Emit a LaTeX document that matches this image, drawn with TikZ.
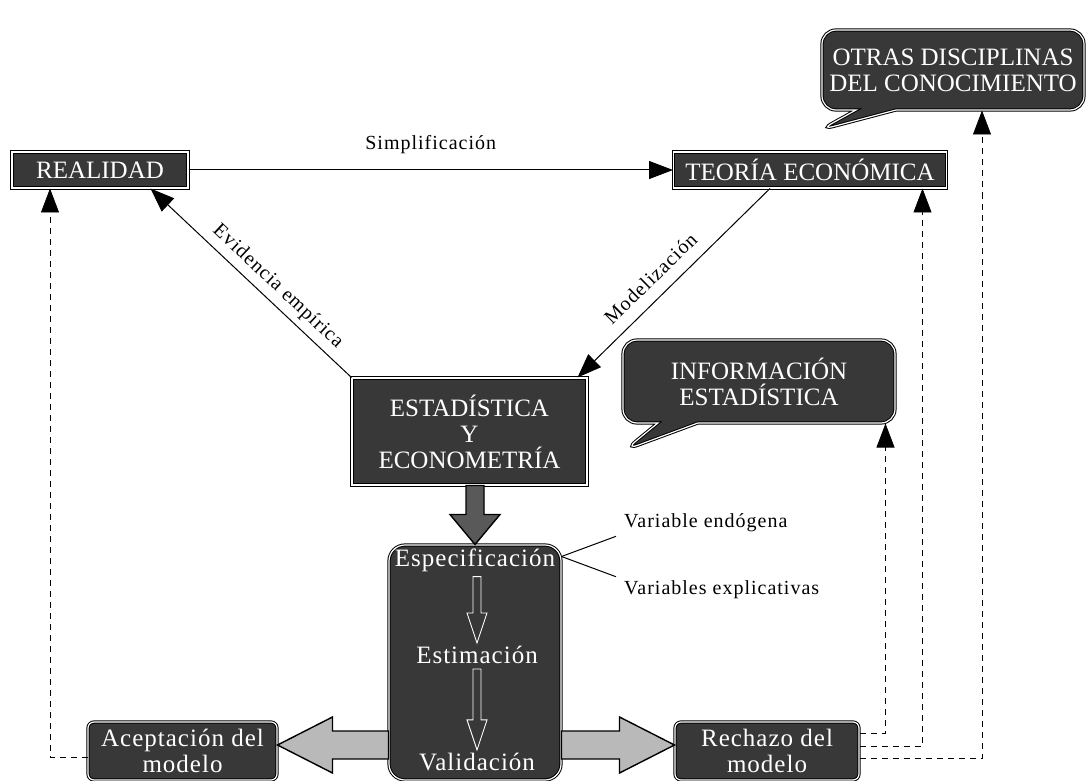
\documentclass[tikz,border=0pt]{standalone}
\usepackage{fontspec}
\setmainfont{Liberation Serif}
\newfontfamily\lblfont[LetterSpace=5]{Liberation Serif}
\newfontfamily\mixfont[LetterSpace=4]{Liberation Serif}
\usetikzlibrary{arrows.meta,calc,shapes.callouts}
\begin{document}
\begin{tikzpicture}[x=1pt,y=-1pt,
  darkbox/.style={draw=black, line width=1pt, double=white, double distance=1.2pt,
    fill=black!78, text=white, align=center, inner sep=0pt,
    font=\fontsize{25}{26}\selectfont},
  mixtxt/.style={text=white, inner sep=1pt, font=\mixfont\fontsize{25}{26}\selectfont, align=center},
  lbl/.style={inner sep=2pt, font=\lblfont\fontsize{20}{22}\selectfont},
  arr/.style={-{Triangle[length=24pt,width=18pt]}, line width=1pt},
  dashdraw/.style={dash pattern=on 6pt off 5pt, line width=0.7pt, -{Triangle[length=24pt,width=18pt]}},
  blk/.style={draw=black, line width=1.4pt, fill=gray!55, line join=miter},
  inarr/.style={draw=white, line width=0.9pt, fill=black!78},
]
\useasboundingbox (0,0) rectangle (1088,781);

% main boxes
\node[darkbox, minimum width=176pt, minimum height=36pt] (real) at (100,170) {REALIDAD};
\node[darkbox, minimum width=273pt, minimum height=36pt] (teo) at (810,170) {TEORÍA ECONÓMICA};
\node[darkbox, minimum width=235pt, minimum height=107pt] (est) at (469.5,431.5) {ESTADÍSTICA\\Y\\ECONOMETRÍA};

% callouts
\coordinate (otip) at (820,130);
\node[darkbox, rectangle callout, rounded corners=14pt, callout absolute pointer=(otip),
  callout pointer width=40pt, minimum width=262pt, minimum height=80pt] (otras) at (953,70)
  {OTRAS DISCIPLINAS\\DEL CONOCIMIENTO};
\coordinate (itip) at (625,450);
\node[darkbox, rectangle callout, rounded corners=14pt, callout absolute pointer=(itip),
  callout pointer width=40pt, minimum width=272pt, minimum height=83pt] (info) at (759,381.5)
  {INFORMACIÓN\\ESTADÍSTICA};

% process box
\node[darkbox, rounded corners=16pt, minimum width=172pt, minimum height=235pt] (proc) at (475,662.5) {};
\node[mixtxt] (spec) at (475,560) {Especificación};
\node[mixtxt] (estim) at (477,655) {Estimación};
\node[mixtxt] (valid) at (477,762) {Validación};

% outcome boxes
\node[darkbox, rounded corners=6pt, minimum width=189pt, minimum height=58pt] (acc) at (182.5,751)
  {\mixfont Aceptación del\\\mixfont modelo};
\node[darkbox, rounded corners=6pt, minimum width=184pt, minimum height=58pt] (rech) at (767,751)
  {\mixfont Rechazo del\\\mixfont modelo};

% labels at the right of the process box
\node[lbl, anchor=west] (vend) at (622,523) {Variable endógena};
\node[lbl, anchor=west] (vexp) at (622,590) {Variables explicativas};
\coordinate (junc) at ([yshift=-12pt]proc.north east);
\draw[line width=1pt] (junc) -- ([xshift=-6pt,yshift=-2pt]vend.south west);
\draw[line width=1pt] (junc) -- ([xshift=-6pt,yshift=2pt]vexp.north west);

% solid arrows
\draw[arr] (real.east) -- node[lbl, above=14pt] {Simplificación} (teo.west);
\draw[arr] (est.north west) -- node[lbl, pos=0.42, sloped, above=4pt] {Evidencia empírica} ([xshift=-38pt]real.south east);
\draw[arr] ([xshift=-40pt]teo.south) -- node[lbl, pos=0.55, sloped, above=10pt] {Modelización} ([xshift=-10pt]est.north east);

% block arrows
\draw[blk, fill=black!65] let \p1=(est.south), \p2=(proc.north) in
  (\x2-9pt,\y1) -- (\x2+9pt,\y1) -- (\x2+9pt,\y2+30pt) -- (\x2+25pt,\y2+30pt) -- (\x2,\y2)
  -- (\x2-25pt,\y2+30pt) -- (\x2-9pt,\y2+30pt) -- cycle;
\draw[blk] let \p1=(proc.west), \p2=(acc.east) in
  (\x1,\y2+20pt) -- (\x2+55pt,\y2+20pt) -- (\x2+55pt,\y2+34pt) -- (\x2,\y2+6pt)
  -- (\x2+55pt,\y2-22pt) -- (\x2+55pt,\y2-8pt) -- (\x1,\y2-8pt) -- cycle;
\draw[blk] let \p1=(proc.east), \p2=(rech.west) in
  (\x1,\y2+20pt) -- (\x2-55pt,\y2+20pt) -- (\x2-55pt,\y2+34pt) -- (\x2,\y2+6pt)
  -- (\x2-55pt,\y2-22pt) -- (\x2-55pt,\y2-8pt) -- (\x1,\y2-8pt) -- cycle;

% inner arrows
\draw[inarr] let \p1=([yshift=-4pt]spec.south), \p2=([yshift=2pt]estim.north) in
  (\x2-4pt,\y1) -- (\x2+4pt,\y1) -- (\x2+4pt,\y2+30pt) -- (\x2+10pt,\y2+30pt) -- (\x2,\y2)
  -- (\x2-10pt,\y2+30pt) -- (\x2-4pt,\y2+30pt) -- cycle;
\draw[inarr] let \p1=([yshift=-4pt]estim.south), \p2=([yshift=2pt]valid.north) in
  (\x2-4pt,\y1) -- (\x2+4pt,\y1) -- (\x2+4pt,\y2+30pt) -- (\x2+10pt,\y2+30pt) -- (\x2,\y2)
  -- (\x2-10pt,\y2+30pt) -- (\x2-4pt,\y2+30pt) -- cycle;

% dashed feedback arrows
\draw[dashdraw] ([yshift=-6pt]acc.west) -| ([xshift=-50pt]real.south);
\draw[dashdraw] ([yshift=18pt]rech.east) -| ([xshift=-10pt]info.south east);
\draw[dashdraw] ([yshift=5pt]rech.east) -| ([xshift=-24.5pt]teo.south east);
\draw[dashdraw] ([yshift=-7pt]rech.east) -| ([xshift=29pt]otras.south);
\end{tikzpicture}
\end{document}
